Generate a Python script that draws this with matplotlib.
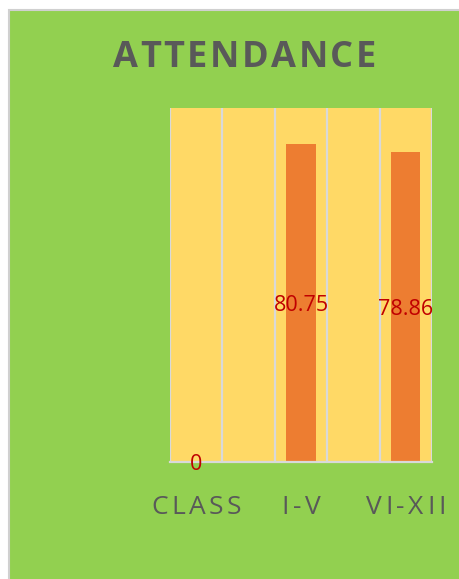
import numpy as np
import matplotlib
matplotlib.use("Agg")
import matplotlib.pyplot as plt
from matplotlib.patches import Rectangle
from matplotlib import transforms

categories = ["CLASS", "I-V", "VI-XII"]
attendance = [0, 80.75, 78.86]
value_labels = ["0", "80.75", "78.86"]

GREEN = "#92D050"
YELLOW = "#FFD966"
ORANGE = "#ED7D31"
GREY = "#595959"
RED = "#C00000"

W, H = 459, 579
fig = plt.figure(figsize=(W / 100, H / 100), dpi=100)
fig.patch.set_facecolor("white")

# green chart area, runs off the right/bottom edge so only left/top border shows
fig.patches.append(Rectangle((9 / W, -0.05), 1.1 - 9 / W, (H - 10) / H + 0.05, transform=fig.transFigure,
                             facecolor=GREEN, edgecolor="#D0D0D0", linewidth=1.5, zorder=-5))

ax = fig.add_axes([170 / W, (H - 462) / H, 262 / W, 354 / H])
ax.set_facecolor(YELLOW)

x = np.arange(len(categories))
ax.bar(x, attendance, width=0.28, color=ORANGE, zorder=2)

ax.set_xlim(-0.25, len(categories) - 0.75)
ax.set_ylim(0, 90)

# vertical gridlines between half categories
ax.set_xticks(np.arange(-0.25, len(categories) - 0.5, 0.5), minor=True)
ax.grid(which="minor", axis="x", color="#D9D9D9", linewidth=1.6, zorder=1)
ax.set_axisbelow(True)
ax.set_xticks(x)
ax.set_xticklabels([])
ax.set_yticks([])
ax.tick_params(which="both", length=0)
for s in ["top", "left", "right"]:
    ax.spines[s].set_visible(False)
ax.spines["bottom"].set_color("#D9D9D9")
ax.spines["bottom"].set_linewidth(1.6)

for xi, v, lab in zip(x, attendance, value_labels):
    ax.text(xi, v / 2, lab, ha="center", va="center_baseline", color=RED,
            fontsize=15.5, fontfamily="Open Sans", zorder=3)

renderer = fig.canvas.get_renderer()


def spaced_text(xc, y, s, track, transform, **kw):
    # draw text letter by letter to mimic character spacing
    widths = []
    for ch in s:
        t = fig.text(0, 0, ch, **kw)
        widths.append(t.get_window_extent(renderer).width)
        t.remove()
    total = sum(widths) + track * (len(s) - 1)
    pos = -total / 2
    for ch, w in zip(s, widths):
        tr = transforms.offset_copy(transform, fig=fig, x=pos, y=0, units="dots")
        fig.text(xc, y, ch, transform=tr, ha="left", va="baseline", **kw)
        pos += w + track


spaced_text(244.5 / W, (H - 67) / H, "ATTENDANCE", 2.5, fig.transFigure,
            fontsize=26, fontweight="bold", color=GREY, fontfamily="Open Sans")

tick_tr = transforms.blended_transform_factory(ax.transData, fig.transFigure)
for xi, c in zip(x, categories):
    spaced_text(xi, (H - 514) / H, c, 3.6, tick_tr,
                fontsize=19, color=GREY, fontfamily="Open Sans")

fig.savefig("out.png", dpi=100, facecolor=fig.get_facecolor())
